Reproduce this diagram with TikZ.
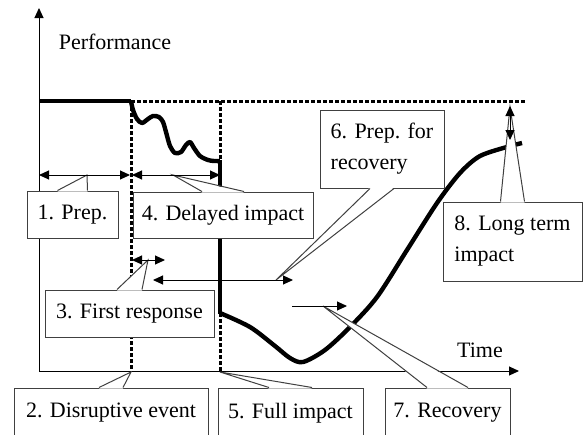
\documentclass[tikz,border=0pt]{standalone}
\usepackage{fontspec}
\setmainfont{Liberation Serif}
\usetikzlibrary{arrows.meta,calc}

% pointer of a callout box: node anchor, half base width, tip, side (1 top, -1 bottom)
\newcommand\calloutptr[4]{%
  \fill[white] ($(#1)+(-#2,#4)$) -- (#3) -- ($(#1)+(#2,#4)$) -- cycle;
  \draw[line width=0.5pt, black!75] ($(#1)+(-#2,0)$) -- (#3) -- ($(#1)+(#2,0)$);
}

\begin{document}
\begin{tikzpicture}[x=0.5pt, y=-0.5pt,
    box/.style={draw=black!75, fill=white, line width=0.5pt, inner sep=0pt,
      font=\fontsize{11}{15.5}\selectfont},
    lbl/.style={inner sep=0pt, font=\fontsize{11}{15.5}\selectfont},
    twoway/.style={line width=0.5pt,
      {Triangle[length=5pt,width=4.5pt]}-{Triangle[length=5pt,width=4.5pt]}},
    oneway/.style={line width=0.5pt, -{Triangle[length=5pt,width=4.5pt]}},
    level/.style={line width=1.5pt, dash pattern=on 2pt off 1pt},
    perf/.style={line width=2.2pt, line join=round}]
    \useasboundingbox (0,0) rectangle (583,434);
    \clip (0,0) rectangle (583,434);

    % Axes
    \coordinate (O) at (39,371);
    \coordinate (Ytop) at (39,8);
    \coordinate (Xend) at (519,371);
    \draw[oneway] (O) -- (Ytop); % performance axis
    \draw[oneway] (O) -- (Xend); % time axis
    \node[lbl] (perflbl) at (115,42) {Performance};
    \node[lbl] (timelbl) at (480,350) {Time};

    % Dashed reference lines
    \draw[level] (131,101) -- (525,101); % nominal level
    \draw[level] (131,101) -- (131,371); % disruptive event
    \draw[level] (220,101) -- (220,161); % full impact, above
    \draw[level] (220,313) -- (220,371); % full impact, below

    % Performance curve
    \draw[perf] (39,101) -- (131,101);
    \draw[perf] plot[smooth, tension=0.5] coordinates {(131,101) (133,110) (137,119)
      (142,123) (148,119) (153,116) (159,117) (163,122) (166,132) (170,146)
      (175,153) (181,152) (186,145) (190,142) (194,148) (200,156) (208,160)
      (214,161) (220,161)};
    \draw[perf] (220,160) -- (220,314);
    \draw[perf] plot[smooth] coordinates {(220,313) (250,327) (275,346) (290,358)
      (303,362) (325,350) (350,327) (377,297) (407,250) (437,203) (460,173)
      (480,156) (507,147)};
    \draw[perf] (514,145) -- (522,143);

    % Callout boxes
    \node[box, minimum width=45.5pt, minimum height=23.5pt] (prep) at (72.5,214.5) {1. Prep.};
    \node[box, minimum width=90pt, minimum height=23pt] (delay) at (223,215) {4. Delayed impact};
    \node[box, minimum width=84.5pt, minimum height=23.5pt] (first) at (129.5,313.5) {3. First response};
    \node[box, minimum width=97pt, minimum height=25pt] (event) at (111,413) {2. Disruptive event};
    \node[box, minimum width=72.5pt, minimum height=25pt] (full) at (290.5,413) {5. Full impact};
    \node[box, minimum width=62.5pt, minimum height=25pt] (recov) at (447.5,413) {7. Recovery};
    \node[box, minimum width=62pt, minimum height=39pt, align=left] (prerec) at (382,149) {6. Prep. for\\recovery};
    \node[box, minimum width=69.5pt, minimum height=39.5pt, align=left] (longt) at (512.5,241.5) {8. Long term\\impact};

    % Arrow ends
    \coordinate (a1) at (39,175);  \coordinate (a2) at (130,175);
    \coordinate (a3) at (132,175); \coordinate (a4) at (220,175);
    \coordinate (a5) at (132,260); \coordinate (a6) at (165,260);
    \coordinate (a7) at (153,280); \coordinate (a8) at (293,280);
    \coordinate (a9) at (292,306); \coordinate (a10) at (347,306);
    \coordinate (a11) at (510,140); \coordinate (a12) at (510,106);

    % Pointer tips
    \coordinate (tPrep) at (87,175);
    \coordinate (tDelay) at (173,175);
    \coordinate (tFirst) at (148,260);
    \coordinate (tEvent) at (131,372);
    \coordinate (tFull) at (220,372);
    \coordinate (tRecov) at (323,306);
    \coordinate (tPrerec) at (276,280);
    \coordinate (tLongt) at (510,107);

    \calloutptr{prep.north}{15}{tPrep}{1}
    \calloutptr{delay.north}{21}{tDelay}{1}
    \calloutptr{first.north}{12.5}{tFirst}{1}
    \calloutptr{event.north}{12}{tEvent}{1}
    \calloutptr{full.north}{21.5}{tFull}{1}
    \calloutptr{recov.north}{20.5}{tRecov}{1}
    \calloutptr{prerec.south}{12}{tPrerec}{-1}
    \calloutptr{longt.north}{12}{tLongt}{1}

    % Phase arrows
    \draw[twoway] (a1) -- (a2);   % preparation
    \draw[twoway] (a3) -- (a4);   % delayed impact
    \draw[twoway] (a5) -- (a6);   % first response
    \draw[twoway] (a7) -- (a8);   % preparation for recovery
    \draw[oneway] (a9) -- (a10);  % recovery
    \draw[twoway] (a11) -- (a12); % long term impact
\end{tikzpicture}
\end{document}
